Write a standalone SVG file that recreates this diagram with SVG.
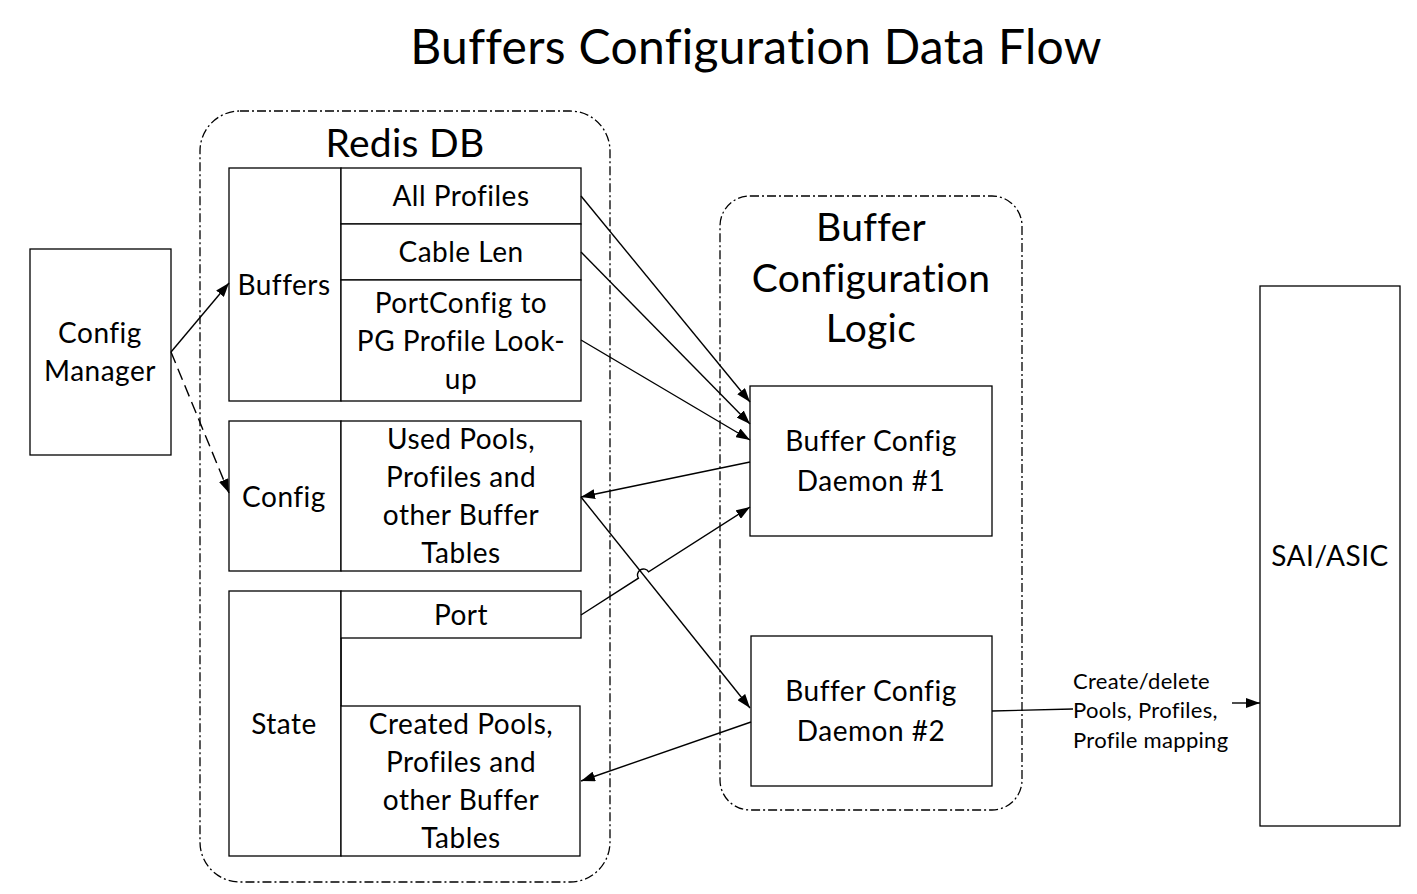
<svg xmlns="http://www.w3.org/2000/svg" width="1417" height="894" viewBox="0 0 1417 894">
<style>
text{font-family:Lato,"Open Sans","Liberation Sans",sans-serif;fill:#000;text-anchor:middle}
.t{font-size:28px;letter-spacing:0.5px}
.big{font-size:39px;letter-spacing:0.3px}
.title{font-size:48px;letter-spacing:0.3px}
.sm{font-size:22px;letter-spacing:0.3px;text-anchor:start}
.box{fill:#fff;stroke:#000;stroke-width:1.3}
.ln{fill:none;stroke:#000;stroke-width:1.3}
.cont{fill:none;stroke:#000;stroke-width:1.3;stroke-dasharray:9,3,2,3}
.c{fill:none;stroke:#000;stroke-width:1.4}
</style>
<defs>
<marker id="ah" viewBox="0 0 14 10" refX="14" refY="5" markerWidth="14" markerHeight="10" markerUnits="userSpaceOnUse" orient="auto">
<path d="M0,0 L14,5 L0,10 z" fill="#000"/>
</marker>
</defs>
<rect width="1417" height="894" fill="#fff"/>
<text class="title" x="756" y="64">Buffers Configuration Data Flow</text>

<g id="redis-db">
<rect class="cont" x="200" y="111" width="410" height="771" rx="40"/>
<text class="big" x="405" y="157">Redis DB</text>
</g>
<g id="buffer-config-logic">
<rect class="cont" x="720" y="196" width="302" height="614" rx="30"/>
<text class="big" x="871" y="241">Buffer</text>
<text class="big" x="871" y="292">Configuration</text>
<text class="big" x="871" y="342">Logic</text>
</g>

<g id="config-manager">
<rect class="box" x="30" y="249" width="141" height="206"/>
<text class="t" x="100" y="343">Config</text>
<text class="t" x="100" y="381">Manager</text>
</g>

<g id="buffers">
<rect class="box" x="229" y="168" width="112" height="233"/>
<text class="t" x="284" y="295">Buffers</text>
</g>
<g id="all-profiles">
<rect class="box" x="341" y="168" width="240" height="56"/>
<text class="t" x="461" y="206">All Profiles</text>
</g>
<g id="cable-len">
<rect class="box" x="341" y="224" width="240" height="56"/>
<text class="t" x="461" y="262">Cable Len</text>
</g>
<g id="portconfig-lookup">
<rect class="box" x="341" y="280" width="240" height="121"/>
<text class="t" x="461" y="313">PortConfig to</text>
<text class="t" x="461" y="351">PG Profile Look-</text>
<text class="t" x="461" y="389">up</text>
</g>

<g id="config">
<rect class="box" x="229" y="421" width="112" height="150"/>
<text class="t" x="284" y="507">Config</text>
</g>
<g id="used-pools">
<rect class="box" x="341" y="421" width="240" height="150"/>
<text class="t" x="461" y="449">Used Pools,</text>
<text class="t" x="461" y="487">Profiles and</text>
<text class="t" x="461" y="525">other Buffer</text>
<text class="t" x="461" y="563">Tables</text>
</g>

<g id="state">
<rect class="box" x="229" y="591" width="112" height="265"/>
<text class="t" x="284" y="734">State</text>
</g>
<g id="port">
<rect class="box" x="341" y="591" width="240" height="47"/>
<text class="t" x="461" y="625">Port</text>
</g>
<g id="created-pools">
<rect class="box" x="341" y="706" width="239" height="150"/>
<text class="t" x="461" y="734">Created Pools,</text>
<text class="t" x="461" y="772">Profiles and</text>
<text class="t" x="461" y="810">other Buffer</text>
<text class="t" x="461" y="848">Tables</text>
</g>
<line class="ln" x1="341" y1="638" x2="341" y2="706"/>

<g id="daemon-1">
<rect class="box" x="750" y="386" width="242" height="150"/>
<text class="t" x="871" y="451">Buffer Config</text>
<text class="t" x="871" y="491">Daemon #1</text>
</g>
<g id="daemon-2">
<rect class="box" x="751" y="636" width="241" height="150"/>
<text class="t" x="871" y="701">Buffer Config</text>
<text class="t" x="871" y="741">Daemon #2</text>
</g>

<g id="sai-asic">
<rect class="box" x="1260" y="286" width="140" height="540"/>
<text class="t" x="1330" y="566">SAI/ASIC</text>
</g>

<g id="connectors">
<line class="c" x1="171" y1="352" x2="229" y2="283" marker-end="url(#ah)"/>
<line class="c" x1="171" y1="352" x2="229" y2="493" stroke-dasharray="12,6" marker-end="url(#ah)"/>
<line class="c" x1="581" y1="196" x2="750" y2="402" marker-end="url(#ah)"/>
<line class="c" x1="581" y1="252" x2="750" y2="424" marker-end="url(#ah)"/>
<line class="c" x1="581" y1="340" x2="750" y2="440" marker-end="url(#ah)"/>
<line class="c" x1="750" y1="462" x2="581" y2="497" marker-end="url(#ah)"/>
<path class="c" d="M581,615 L638.4,578.2 A6,6 0 0 1 648.6,571.8 L750,507" marker-end="url(#ah)"/>
<line class="c" x1="581" y1="497" x2="750" y2="708" marker-end="url(#ah)"/>
<line class="c" x1="751" y1="722" x2="581" y2="781" marker-end="url(#ah)"/>
<line class="c" x1="992" y1="711" x2="1073" y2="709"/>
<line class="c" x1="1232" y1="703" x2="1260" y2="703" marker-end="url(#ah)"/>
<text class="sm" x="1073" y="689">Create/delete</text>
<text class="sm" x="1073" y="718">Pools, Profiles,</text>
<text class="sm" x="1073" y="748">Profile mapping</text>
</g>
</svg>
